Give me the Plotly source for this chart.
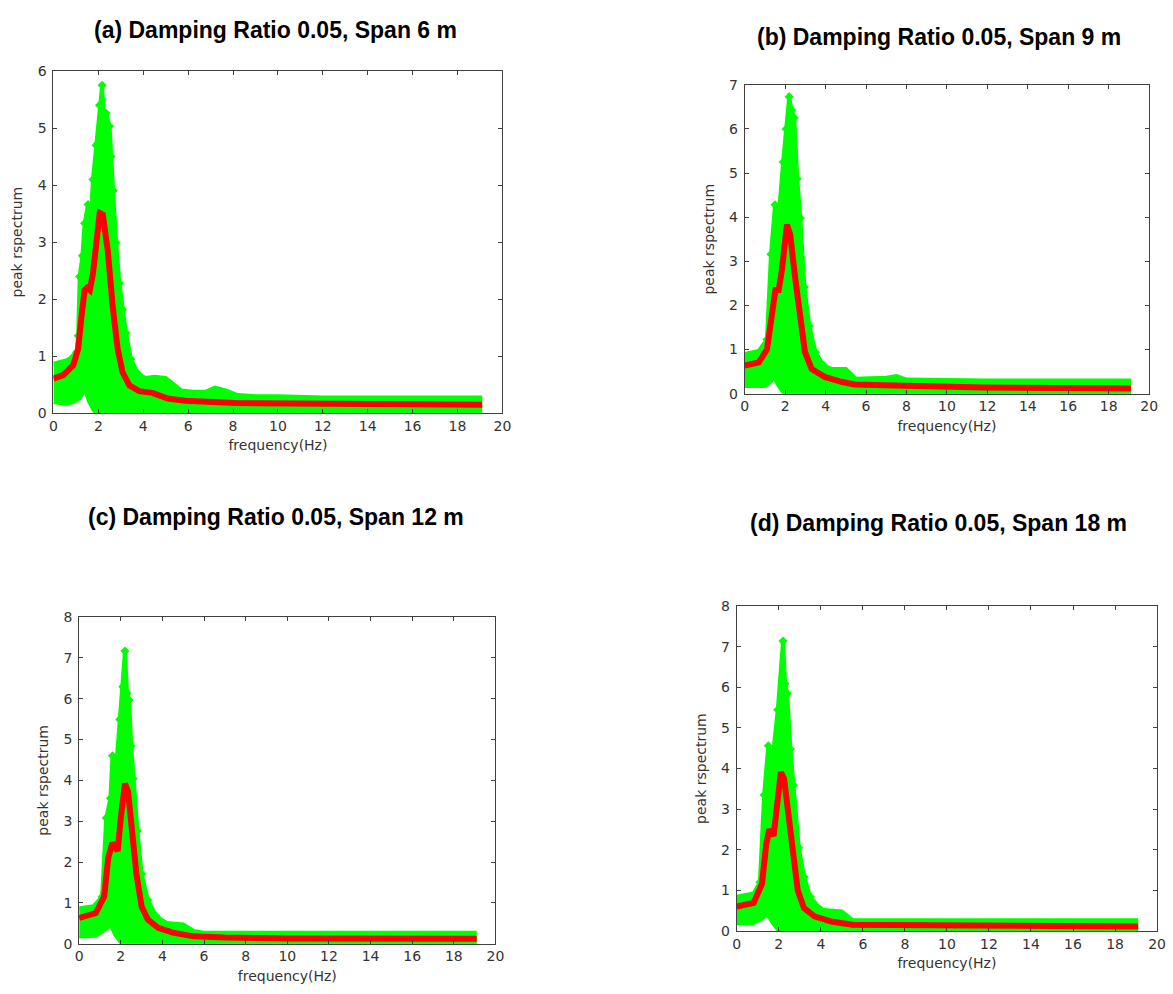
import plotly.graph_objects as go

# ---------------- data ----------------
# Panel (a) Span 6 m
A_UP_F = [0, 0.3, 0.6, 0.9, 1.03, 1.1, 1.17, 1.29, 1.39, 1.54, 1.69, 1.76, 1.9, 2.05, 2.17, 2.26, 2.35, 2.5, 2.57, 2.67, 2.79, 2.94, 3.08, 3.23, 3.45, 3.8, 4.1, 4.5, 5.0, 5.3, 5.7, 6.2, 6.8, 7.2, 7.7, 8.2, 9.0, 10.0, 12.0, 15.0, 19.1]
A_UP = [0.87, 0.9, 0.93, 1.0, 1.07, 1.36, 2.4, 2.76, 3.33, 3.66, 3.6, 4.1, 4.7, 5.4, 5.75, 5.0, 5.26, 5.03, 4.5, 3.9, 2.99, 2.28, 1.82, 1.41, 0.95, 0.68, 0.62, 0.64, 0.62, 0.52, 0.4, 0.38, 0.38, 0.45, 0.4, 0.32, 0.3, 0.3, 0.28, 0.28, 0.28]
A_LO_F = [0, 0.5, 0.9, 1.2, 1.39, 1.55, 1.75, 1.85, 19.1]
A_LO = [0.18, 0.15, 0.18, 0.25, 0.38, 0.2, 0.05, 0.0, 0.0]
A_M_F = [0, 0.44, 0.88, 1.1, 1.25, 1.39, 1.5, 1.62, 1.76, 1.91, 2.06, 2.2, 2.42, 2.64, 2.86, 3.08, 3.38, 3.82, 4.41, 5.1, 5.87, 8.1, 12.5, 19.1]
A_MEAN = [0.61, 0.67, 0.84, 1.13, 1.7, 2.16, 2.2, 2.16, 2.45, 3.07, 3.51, 3.48, 2.85, 1.87, 1.13, 0.72, 0.49, 0.39, 0.36, 0.26, 0.22, 0.18, 0.16, 0.15]

# Panel (b) Span 9 m
B_UP_F = [0, 0.7, 1.1, 1.3, 1.5, 1.7, 1.9, 2.05, 2.2, 2.32, 2.45, 2.6, 2.75, 2.95, 3.2, 3.5, 3.9, 4.3, 5.0, 5.5, 7.0, 7.5, 8.0, 12.0, 19.1]
B_UP = [0.9, 0.97, 1.23, 3.16, 4.28, 4.13, 5.25, 6.0, 6.73, 6.43, 6.25, 4.87, 3.98, 2.42, 1.53, 0.94, 0.64, 0.56, 0.56, 0.34, 0.36, 0.4, 0.32, 0.3, 0.3]
B_LO_F = [0, 1.0, 1.3, 1.45, 1.6, 1.8, 1.9, 19.1]
B_LO = [0.15, 0.15, 0.25, 0.33, 0.2, 0.06, 0.0, 0.0]
B_M_F = [0, 0.7, 1.1, 1.35, 1.52, 1.68, 1.84, 2.09, 2.25, 2.49, 2.74, 2.98, 3.31, 3.96, 4.78, 5.43, 6.9, 11.8, 19.1]
B_MEAN = [0.64, 0.71, 1.0, 1.83, 2.35, 2.35, 2.8, 3.83, 3.61, 2.64, 1.68, 0.94, 0.56, 0.38, 0.27, 0.21, 0.19, 0.14, 0.12]

# Panel (c) Span 12 m
C_UP_F = [0, 0.7, 1.1, 1.3, 1.5, 1.6, 1.75, 1.95, 2.1, 2.2, 2.3, 2.4, 2.5, 2.6, 2.8, 3.0, 3.3, 3.7, 4.2, 5.0, 5.5, 6.0, 19.1]
C_UP = [0.87, 0.92, 1.15, 3.08, 3.56, 4.6, 4.12, 5.49, 6.29, 7.17, 6.13, 5.97, 4.84, 4.04, 2.76, 1.71, 1.07, 0.67, 0.51, 0.47, 0.31, 0.27, 0.27]
C_LO_F = [0, 0.8, 1.2, 1.5, 1.7, 1.9, 2.0, 19.1]
C_LO = [0.15, 0.17, 0.3, 0.42, 0.2, 0.05, 0.0, 0.0]
C_M_F = [0, 0.8, 1.2, 1.4, 1.6, 1.85, 2.0, 2.2, 2.35, 2.55, 2.75, 3.0, 3.3, 3.8, 4.5, 5.5, 7.0, 10.0, 19.1]
C_MEAN = [0.63, 0.75, 1.15, 2.11, 2.47, 2.27, 3.08, 3.92, 3.72, 2.67, 1.71, 0.91, 0.59, 0.39, 0.27, 0.18, 0.15, 0.13, 0.12]

# Panel (d) Span 18 m
D_UP_F = [0, 0.8, 1.1, 1.3, 1.5, 1.7, 1.95, 2.2, 2.3, 2.4, 2.55, 2.7, 2.95, 3.2, 3.5, 4.0, 5.0, 5.5, 19.1]
D_UP = [0.84, 0.92, 1.2, 3.35, 4.56, 4.23, 5.45, 7.14, 6.09, 5.85, 4.48, 3.59, 2.05, 1.33, 0.84, 0.52, 0.48, 0.27, 0.26]
D_LO_F = [0, 0.8, 1.2, 1.45, 1.65, 1.85, 1.95, 19.1]
D_LO = [0.17, 0.17, 0.28, 0.38, 0.2, 0.05, 0.0, 0.0]
D_M_F = [0, 0.8, 1.2, 1.4, 1.55, 1.75, 1.9, 2.1, 2.25, 2.45, 2.65, 2.9, 3.2, 3.7, 4.5, 5.5, 19.1]
D_MEAN = [0.6, 0.69, 1.16, 2.13, 2.5, 2.34, 3.02, 3.91, 3.75, 2.86, 1.81, 1.0, 0.56, 0.36, 0.23, 0.15, 0.11]

TITLES = ["(a) Damping Ratio 0.05, Span 6 m", "(b) Damping Ratio 0.05, Span 9 m",
          "(c) Damping Ratio 0.05, Span 12 m", "(d) Damping Ratio 0.05, Span 18 m"]
Y_MAX = [6, 7, 8, 8]

# ---------------- layout geometry ----------------
W, H = 1173, 994
# pixel boxes: (left, right, top, bottom)
BOXES = [(50, 504, 64, 412), (749, 1158, 78, 392), (76, 497, 619, 951), (741, 1166, 608, 938)]
TITLE_POS = [(275, 22), (945, 29), (275, 517), (945, 523)]

GREEN = "#00FF00"
RED = "#FF0000"
TFONT = "Liberation Sans, Arial, sans-serif"
AFONT = "DejaVu Sans, sans-serif"
ACOL = "#333333"

panels = [
    (A_UP_F, A_UP, A_LO_F, A_LO, A_M_F, A_MEAN),
    (B_UP_F, B_UP, B_LO_F, B_LO, B_M_F, B_MEAN),
    (C_UP_F, C_UP, C_LO_F, C_LO, C_M_F, C_MEAN),
    (D_UP_F, D_UP, D_LO_F, D_LO, D_M_F, D_MEAN),
]

fig = go.Figure()
layout = dict(
    width=W, height=H, margin=dict(l=0, r=0, t=0, b=0),
    paper_bgcolor="white", plot_bgcolor="white", showlegend=False,
    font=dict(family=AFONT, size=13, color=ACOL),
    annotations=[],
)

for i, (uf, up, lf, lo, mf, mean) in enumerate(panels):
    n = "" if i == 0 else str(i + 1)
    xa, ya = "x" + n, "y" + n
    # marker texture only along the peak region (scatter-marker look of the cloud edge)
    msize = [7 if 0.9 <= f <= 4.0 else 0 for f in uf]
    fig.add_trace(go.Scatter(x=lf, y=lo, mode="lines", line=dict(color=GREEN, width=2),
                             xaxis=xa, yaxis=ya, hoverinfo="skip"))
    fig.add_trace(go.Scatter(x=uf, y=up, mode="lines+markers", fill="tonexty", fillcolor=GREEN,
                             line=dict(color=GREEN, width=4),
                             marker=dict(symbol="diamond", size=msize, color=GREEN,
                                         opacity=1, line=dict(width=0, color=GREEN)),
                             xaxis=xa, yaxis=ya, hoverinfo="skip"))
    fig.add_trace(go.Scatter(x=mf, y=mean, mode="lines", line=dict(color=RED, width=6),
                             xaxis=xa, yaxis=ya))
    l, r, t, b = BOXES[i]
    common = dict(showline=True, linecolor="#404040", linewidth=1, mirror="ticks",
                  ticks="inside", ticklen=4, tickcolor="#404040", showgrid=False,
                  zeroline=False, tickfont=dict(family=AFONT, size=14, color=ACOL))
    layout["xaxis" + n] = dict(domain=[l / W, r / W], range=[0, 20], dtick=2, tick0=0,
                               anchor=ya,
                               title=dict(text="frequency(Hz)", standoff=7,
                                          font=dict(family=AFONT, size=14, color=ACOL)),
                               **common)
    layout["yaxis" + n] = dict(domain=[1 - b / H, 1 - t / H], range=[0, Y_MAX[i]], dtick=1, tick0=0,
                               anchor=xa, ticklabelstandoff=3,
                               title=dict(text="peak rspectrum", standoff=11,
                                          font=dict(family=AFONT, size=14, color=ACOL)),
                               **common)
    tx, ty = TITLE_POS[i]
    layout["annotations"].append(dict(text="<b>" + TITLES[i] + "</b>", x=tx / W, y=1 - ty / H,
                                      xref="paper", yref="paper", showarrow=False,
                                      xanchor="center", yanchor="middle",
                                      font=dict(family=TFONT, size=23, color="black")))

fig.update_layout(**layout)
fig.write_html("out.html")
